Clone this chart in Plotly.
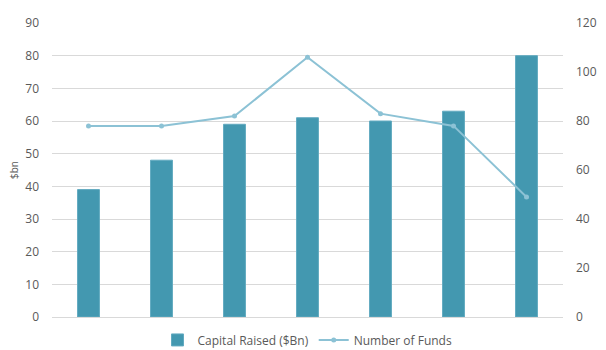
import plotly.graph_objects as go

categories = ["1", "2", "3", "4", "5", "6", "7"]
capital_raised = [39, 48, 59, 61, 60, 63, 80]
number_of_funds = [78, 78, 82, 106, 83, 78, 49]
left_ticks = [0, 10, 20, 30, 40, 50, 60, 70, 80, 90]
right_ticks = [0, 20, 40, 60, 80, 100, 120]

font_family = "Open Sans, Noto Sans, sans-serif"
text_color = "#595959"

fig = go.Figure()
fig.add_trace(go.Bar(
    x=categories, y=capital_raised, name="Capital Raised ($Bn)",
    marker=dict(color="#4398B0", line=dict(color="#62AAC0", width=1)),
    width=0.3, yaxis="y",
))
fig.add_trace(go.Scatter(
    x=categories, y=number_of_funds, name="Number of Funds",
    mode="lines+markers",
    line=dict(color="#8CC2D5", width=2),
    marker=dict(color="#8CC2D5", size=5),
    yaxis="y2",
))

fig.update_layout(
    width=606, height=350,
    margin=dict(l=52, r=43, t=23, b=33, autoexpand=False),
    paper_bgcolor="white", plot_bgcolor="white",
    font=dict(family=font_family, size=12, color=text_color),
    showlegend=True,
    legend=dict(orientation="h", x=0.5, xanchor="center", y=-0.078, yanchor="middle",
                font=dict(size=12, color=text_color), itemwidth=30,
                traceorder="normal"),
    bargap=0.7,
    xaxis=dict(showticklabels=False, showgrid=False, zeroline=False,
               showline=True, linecolor="#D9D9D9", linewidth=1,
               ticks=""),
    yaxis=dict(range=[0, 90], tickvals=left_ticks, showgrid=True,
               gridcolor="#D9D9D9", gridwidth=1, zeroline=False,
               ticks="", ticklabelstandoff=12,
               tickfont=dict(size=12, color=text_color),
               title=dict(text="$bn", font=dict(size=10, color=text_color), standoff=4)),
    yaxis2=dict(range=[0, 120], tickvals=right_ticks, overlaying="y", side="right",
                showgrid=False, zeroline=False, ticks="", ticklabelstandoff=12,
                tickfont=dict(size=12, color=text_color)),
)

fig.write_html("out.html")
